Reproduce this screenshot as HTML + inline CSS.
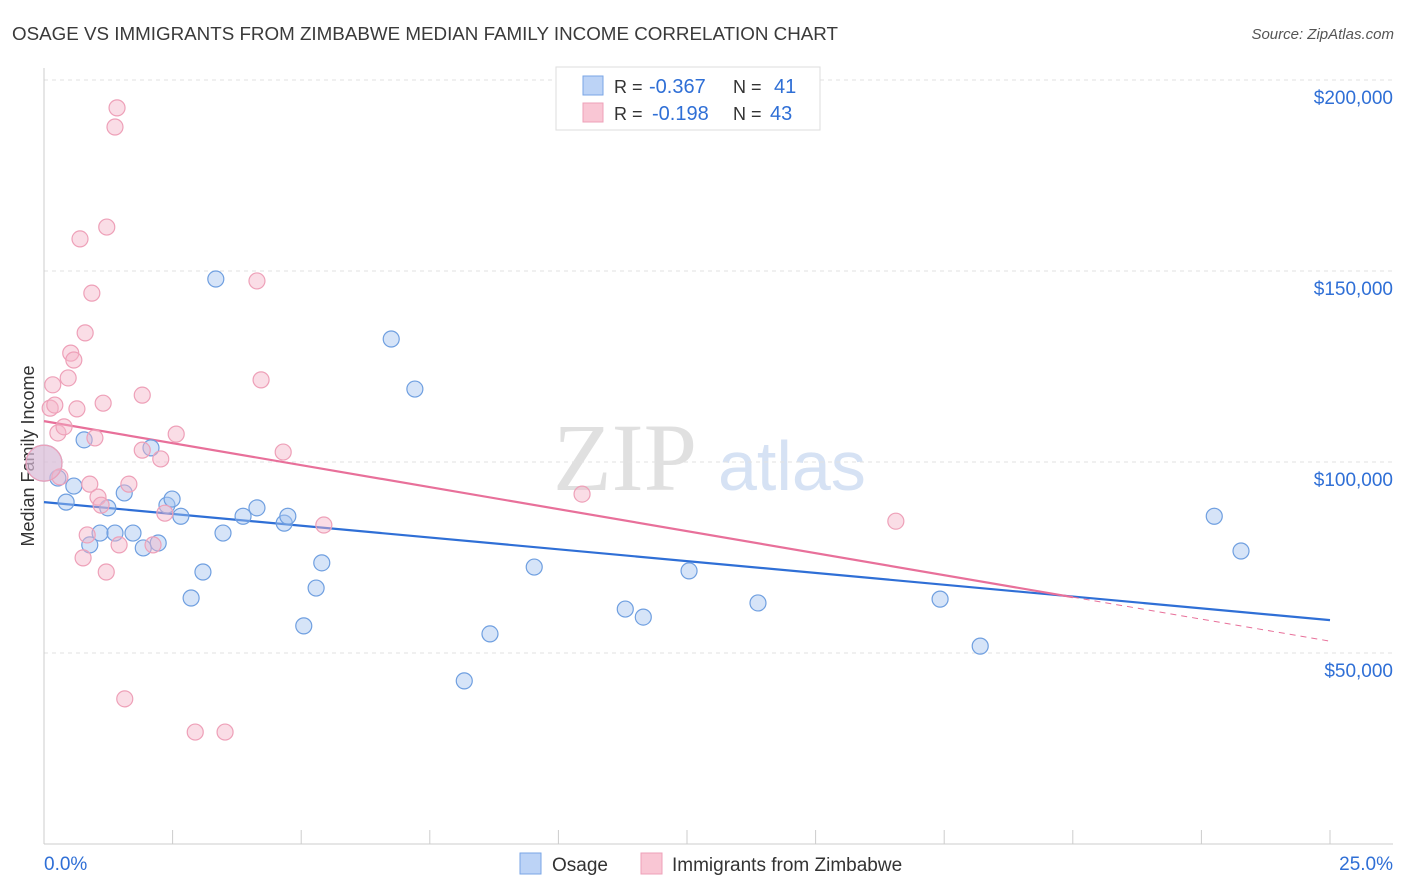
<!DOCTYPE html>
<html><head><meta charset="utf-8"><style>
body{margin:0;background:#fff;font-family:"Liberation Sans",sans-serif;}
svg{display:block}
</style></head><body>
<svg id="chart" width="1406" height="892" xmlns="http://www.w3.org/2000/svg" font-family="Liberation Sans, sans-serif">
<text x="12" y="40" font-size="18" fill="#3a3a3a" textLength="826" lengthAdjust="spacingAndGlyphs">OSAGE VS IMMIGRANTS FROM ZIMBABWE MEDIAN FAMILY INCOME CORRELATION CHART</text>
<text x="1394" y="39" font-size="15" fill="#555" text-anchor="end" font-style="italic">Source: ZipAtlas.com</text>
<g>
<text x="553" y="490" font-size="96" font-family="Liberation Serif, serif" fill="#e0e0e0">ZIP</text>
<text x="718" y="490" font-size="70" fill="#d6e2f4">atlas</text>
</g>
<g id="grid"></g>
<g id="axes"></g>
<text transform="translate(34,456) rotate(-90)" font-size="18" fill="#333" text-anchor="middle">Median Family Income</text>
<g id="lines"></g>
<g id="points"></g>
<g font-size="20">
<rect x="556" y="67" width="264" height="63" fill="#fff" stroke="#ddd"/>
<rect x="583" y="76" width="20" height="19" fill="#bcd3f6" stroke="#7aa6e6"/>
<rect x="583" y="103" width="20" height="19" fill="#f9c6d4" stroke="#eea0b8"/>
<text x="614" y="93" fill="#333" font-size="18">R =</text>
<text x="649" y="93" fill="#2f6fd6">-0.367</text>
<text x="733" y="93" fill="#333" font-size="18">N =</text>
<text x="774" y="93" fill="#2f6fd6">41</text>
<text x="614" y="120" fill="#333" font-size="18">R =</text>
<text x="652" y="120" fill="#2f6fd6">-0.198</text>
<text x="733" y="120" fill="#333" font-size="18">N =</text>
<text x="770" y="120" fill="#2f6fd6">43</text>
</g>
<g>
<rect x="520" y="853" width="21" height="21" fill="#bcd3f6" stroke="#7aa6e6"/>
<text x="552" y="871" font-size="19" fill="#333">Osage</text>
<rect x="641" y="853" width="21" height="21" fill="#f9c6d4" stroke="#eea0b8"/>
<text x="672" y="871" font-size="19" fill="#333">Immigrants from Zimbabwe</text>
</g>
</svg>
<script>
const yTicks=[200000,150000,100000,50000];
const yTickLabels=["$200,000","$150,000","$100,000","$50,000"];
const xTickLabels=["0.0%","25.0%"];
const osageX=[0.27,0.43,0.58,0.78,0.89,1.09,1.24,1.38,1.56,1.73,1.93,2.08,2.22,2.39,2.49,2.66,2.86,3.09,3.34,3.48,3.87,4.14,4.67,4.74,5.05,5.29,5.40,6.75,7.21,8.17,8.67,9.53,11.30,11.65,12.54,13.88,17.42,18.20,22.75,23.27,0.0];
const osageY=[95800,89500,93700,105800,78300,81400,88000,81400,91900,81400,77500,103700,78800,88700,90300,85800,64400,71200,147900,81400,85800,88000,84000,85800,57100,67000,73600,132200,119100,42700,55000,72500,61500,59400,71500,63100,64100,51800,85800,76700,99700];
const zimX=[0.12,0.17,0.21,0.27,0.31,0.39,0.47,0.52,0.58,0.64,0.70,0.76,0.80,0.84,0.89,0.93,0.99,1.05,1.11,1.15,1.21,1.22,1.38,1.42,1.46,1.57,1.65,1.91,1.91,2.12,2.27,2.35,2.57,2.94,3.52,4.14,4.22,4.65,5.44,10.46,16.56,0.0];
const zimY=[114100,120200,114900,107600,96100,109200,122000,128500,126700,113900,158400,74900,133800,80900,94200,144200,106300,90800,88700,115400,71200,161500,187700,192700,78300,38000,94200,117500,103100,78300,100800,86600,107300,29300,29300,147400,121500,102600,83500,91600,84500,99700];
const osageTrend=[89500,58600];
const zimTrend=[110700,53100];
const zimSolidEnd=20;
const NS="http://www.w3.org/2000/svg";
const X=v=>44+v/25*1286;
const Y=v=>80+(200000-v)/50000*191;
function mk(tag,attrs,parent){const e=document.createElementNS(NS,tag);for(const k in attrs)e.setAttribute(k,attrs[k]);document.getElementById(parent).appendChild(e);return e;}
yTicks.forEach((t,i)=>{
 const l=mk('line',{x1:44,x2:1393,y1:Y(t),y2:Y(t),stroke:'#e2e2e2','stroke-dasharray':'4,4'},'grid');
 
 
 const tx=mk('text',{x:1393,y:Y(t)+24,'font-size':19,fill:'#2f6fd6','text-anchor':'end'},'grid');
 tx.textContent=yTickLabels[i];
 
 
});
let a=mk('line',{x1:44,x2:44,y1:68,y2:844,stroke:'#ccc'},'axes');


a=mk('line',{x1:44,x2:1393,y1:844,y2:844,stroke:'#ccc'},'axes');


for(let i=0;i<=10;i++){
 const t=mk('line',{x1:X(i*2.5),x2:X(i*2.5),y1:830,y2:844,stroke:'#ccc'},'axes');
 
 
}
[[0,'start',44],[25,'end',1393]].forEach((d,i)=>{
 const t=mk('text',{x:d[2],y:870,'font-size':19,fill:'#2f6fd6','text-anchor':d[1]},'axes');
 t.textContent=xTickLabels[i];
 
 
});
function pts(xs,ys,fill,stroke,name){
 xs.forEach((x,i)=>{
  const big=(x===0);
  const c=mk('circle',{cx:X(x),cy:Y(ys[i]),r:big?18:8,fill:fill,stroke:stroke,'stroke-width':1.2},'points');
  
  
 });
}
pts(osageX,osageY,'rgba(164,196,240,0.45)','#6f9fe0','osage-point');
pts(zimX,zimY,'rgba(245,180,200,0.45)','#eea0b8','zimbabwe-point');
let ln=mk('line',{x1:X(0),y1:Y(osageTrend[0]),x2:X(25),y2:Y(osageTrend[1]),stroke:'#2f6fd6','stroke-width':2.2},'lines');


const zAt=x=>zimTrend[0]+(zimTrend[1]-zimTrend[0])*x/25;
ln=mk('line',{x1:X(0),y1:Y(zimTrend[0]),x2:X(zimSolidEnd),y2:Y(zAt(zimSolidEnd)),stroke:'#e8709a','stroke-width':2.2},'lines');


ln=mk('line',{x1:X(zimSolidEnd),y1:Y(zAt(zimSolidEnd)),x2:X(25),y2:Y(zimTrend[1]),stroke:'#e8709a','stroke-width':1,'stroke-dasharray':'6,5'},'lines');


</script>
</body></html>
